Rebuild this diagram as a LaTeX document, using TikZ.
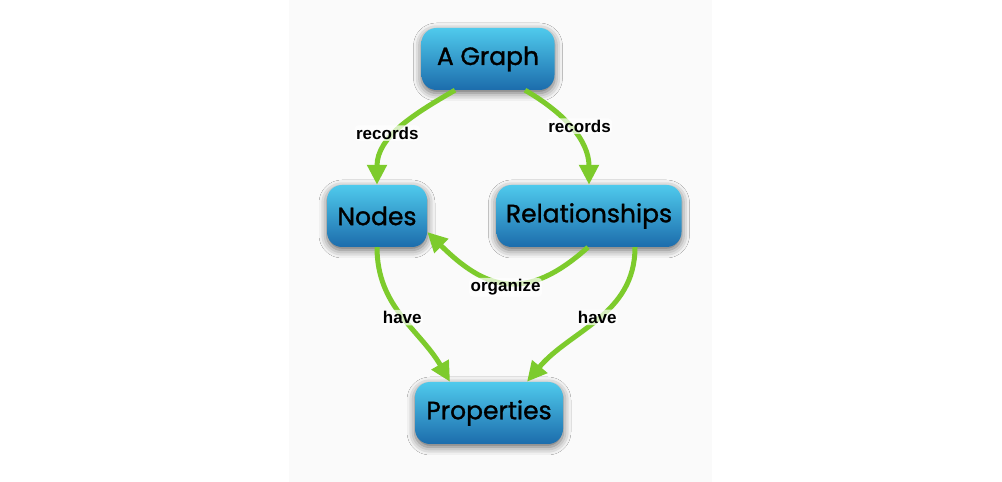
\documentclass[tikz,border=0pt]{standalone}
\usepackage{fontspec}
\setmainfont{Liberation Sans}
\newfontfamily\boxfont[FakeBold=1.2]{Poppins}
\usetikzlibrary{arrows.meta,shadows.blur}
\definecolor{paper}{HTML}{FAFAFA}
\definecolor{boxtop}{HTML}{4FCAEC}
\definecolor{boxbot}{HTML}{1C6CAC}
\definecolor{linkgreen}{HTML}{7DCB2C}
\begin{document}
\begin{tikzpicture}[
  x=1pt, y=1pt,
  box/.style={rectangle, rounded corners=15pt, top color=boxtop, bottom color=boxbot,
    minimum height=62pt, inner sep=0pt, font=\boxfont\fontsize{25}{25}\selectfont,
    blur shadow={shadow xshift=0pt, shadow yshift=-3pt, shadow blur radius=8pt,
      shadow blur extra rounding=4pt, shadow opacity=60}},
  link/.style={-{Triangle[length=20pt,width=19pt]}, linkgreen, line width=5pt},
  lbl/.style={font=\bfseries\fontsize{17}{17}\selectfont, text=black, fill=white, fill opacity=0.7,
    text opacity=1, inner sep=1.5pt, rounded corners=4pt}
]
\useasboundingbox (0,0) rectangle (1002,482);
\fill[paper] (289,0) rectangle (712,482);

% Boxes
\node[box, minimum width=133pt] (graph) at (488,423) {A Graph};
\node[box, minimum width=100pt, below of=graph, node distance=157pt, xshift=-111pt] (nodes) {Nodes};
\node[box, minimum width=185pt, right of=nodes, node distance=212pt] (rels) {Relationships};
\node[box, minimum width=148pt, below of=graph, node distance=354pt, xshift=1pt] (props) {Properties};

% A Graph records
\draw[link] ([xshift=-33pt]graph.south) to[out=-150, in=90]
  node[lbl, pos=0.55, xshift=-9pt] {records} (nodes.north);
\draw[link] ([xshift=37pt]graph.south) to[out=-30, in=90]
  node[lbl, pos=0.5, xshift=8pt, yshift=3pt] {records} (rels.north);

% Relationships organize Nodes
\draw[link] ([xshift=-1pt]rels.south) .. controls (525,178) and (485,193) ..
  node[lbl, pos=0.5, yshift=-5pt] {organize} ([yshift=-16pt]nodes.east);

% have Properties
\draw[link] (nodes.south) to[out=-90, in=120]
  node[lbl, pos=0.5] {have} ([xshift=-39pt]props.north);
\draw[link] ([xshift=46pt]rels.south) to[out=-90, in=50]
  node[lbl, pos=0.5, yshift=3pt] {have} ([xshift=38pt]props.north);

\end{tikzpicture}
\end{document}
